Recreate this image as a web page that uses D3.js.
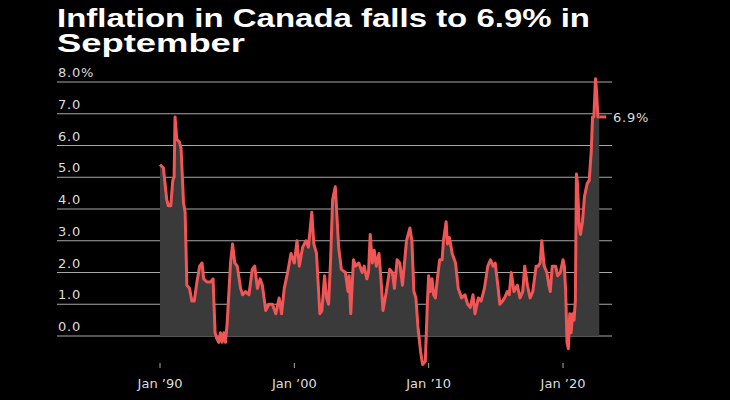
<!DOCTYPE html>
<html>
<head>
<meta charset="utf-8">
<script src="https://cdn.jsdelivr.net/npm/d3@7"></script>
<style>
html, body { margin: 0; padding: 0; background: #000; }
svg { display: block; font-family: "DejaVu Sans", sans-serif; }
</style>
</head>
<body>
<svg id="chart" width="730" height="400"></svg>
<script>
// [decimal year, CPI y/y %], one array per decade
var points1990s = [[1990.0,5.4],[1990.25,5.3],[1990.5,4.3],[1990.62,4.1],[1990.8,4.1],[1990.95,4.9],[1991.05,5.0],[1991.12,6.9],[1991.25,6.2],[1991.45,6.1],[1991.57,5.9],[1991.75,4.2],[1991.87,3.9],[1992.0,1.6],[1992.2,1.5],[1992.37,1.1],[1992.55,1.1],[1992.75,1.7],[1992.95,2.2],[1993.13,2.3],[1993.25,1.8],[1993.5,1.7],[1993.75,1.7],[1993.95,1.8],[1994.1,0.1],[1994.25,-0.1],[1994.37,-0.2],[1994.5,0.1],[1994.62,-0.2],[1994.75,0.1],[1994.87,-0.2],[1995.0,0.4],[1995.25,2.3],[1995.4,2.9],[1995.57,2.3],[1995.75,2.2],[1996.0,1.5],[1996.15,1.3],[1996.37,1.4],[1996.62,1.3],[1996.87,2.1],[1997.05,2.2],[1997.25,1.5],[1997.45,1.8],[1997.62,1.6],[1997.87,0.8],[1998.1,1.0],[1998.37,1.0],[1998.62,0.7],[1998.87,1.2],[1999.05,0.7],[1999.25,1.5],[1999.5,2.0],[1999.75,2.6]];
var points2000s = [[2000.0,2.3],[2000.2,3.0],[2000.37,2.2],[2000.62,2.8],[2000.87,3.0],[2001.05,2.8],[2001.3,3.9],[2001.45,2.9],[2001.65,2.6],[2001.9,0.7],[2002.05,0.8],[2002.25,1.9],[2002.4,1.2],[2002.55,1.0],[2002.7,2.4],[2002.85,4.3],[2003.05,4.7],[2003.3,2.8],[2003.5,2.1],[2003.8,2.0],[2004.0,1.4],[2004.08,1.9],[2004.2,0.7],[2004.4,2.4],[2004.55,2.2],[2004.8,2.3],[2005.05,2.0],[2005.2,2.2],[2005.4,1.8],[2005.52,2.0],[2005.65,3.2],[2005.8,2.3],[2005.95,2.7],[2006.1,2.2],[2006.3,2.6],[2006.45,1.8],[2006.6,0.8],[2006.85,1.4],[2007.1,2.1],[2007.3,2.0],[2007.45,1.5],[2007.65,2.4],[2007.85,2.3],[2008.05,1.6],[2008.35,3.0],[2008.6,3.4],[2008.75,3.0],[2008.9,1.4],[2009.05,1.2],[2009.2,0.3],[2009.4,-0.5],[2009.55,-0.9],[2009.75,-0.8],[2009.9,1.0]];
var points2010s = [[2010.0,1.9],[2010.12,1.4],[2010.25,1.8],[2010.37,1.3],[2010.5,1.2],[2010.62,1.7],[2010.82,2.4],[2011.0,2.4],[2011.1,3.0],[2011.3,3.6],[2011.4,2.9],[2011.55,3.1],[2011.75,2.6],[2012.0,2.3],[2012.2,1.5],[2012.45,1.2],[2012.7,1.3],[2012.9,1.0],[2013.1,0.9],[2013.3,1.3],[2013.45,0.7],[2013.7,1.2],[2013.9,1.1],[2014.15,1.5],[2014.4,2.2],[2014.6,2.4],[2014.8,2.2],[2014.95,2.3],[2015.15,1.6],[2015.3,1.0],[2015.5,1.1],[2015.65,1.2],[2015.85,1.4],[2016.0,1.3],[2016.15,2.0],[2016.35,1.4],[2016.6,1.6],[2016.8,1.2],[2017.0,1.4],[2017.15,2.2],[2017.35,1.6],[2017.55,1.2],[2017.75,1.4],[2018.0,2.2],[2018.15,2.2],[2018.3,2.3],[2018.42,3.0],[2018.6,2.2],[2018.8,2.0],[2018.95,1.6],[2019.05,1.4],[2019.2,2.2],[2019.45,2.2],[2019.6,1.9],[2019.8,2.0]];
var points2020s = [[2020.0,2.4],[2020.1,2.2],[2020.2,1.4],[2020.3,-0.2],[2020.4,-0.4],[2020.5,0.7],[2020.6,0.1],[2020.72,0.7],[2020.82,0.5],[2020.92,1.1],[2021.0,5.1],[2021.08,4.8],[2021.2,3.5],[2021.3,3.2],[2021.45,3.6],[2021.6,4.4],[2021.8,4.8],[2021.95,4.9],[2022.1,5.8],[2022.2,6.9],[2022.3,6.9],[2022.42,8.1],[2022.5,7.7],[2022.6,6.9],[2022.7,6.9]];
var yTicks = [0, 1, 2, 3, 4, 5, 6, 7, 8];
var xTicks = [1990, 2000, 2010, 2020];
var xTickLabels = ["Jan ’90", "Jan ’00", "Jan ’10", "Jan ’20"];
var titleLines = ["Inflation in Canada falls to 6.9% in", "September"];

var svg = d3.select("#chart");
var data = points1990s.concat(points2000s, points2010s, points2020s)
	.map(function(p) { return { x: p[0], v: p[1] }; });

var x = d3.scaleLinear().domain([1990, 2020]).range([160, 563]);
var y = d3.scaleLinear().domain([0, 8]).range([336, 82]);

var titleWidths = [533, 188];
svg.append("g").selectAll("text").data(titleLines).enter().append("text")
	.attr("x", 57).attr("y", function(d, i) { return 27 + i * 25; })
	.attr("fill", "#fff").attr("font-size", 25).attr("font-weight", "bold")
	.attr("font-family", "'Liberation Sans', Arial, sans-serif")
	.attr("textLength", function(d, i) { return titleWidths[i]; })
	.attr("lengthAdjust", "spacingAndGlyphs")
	.text(function(d) { return d; });

// gridlines + y labels
svg.append("g").selectAll("line").data(yTicks).enter().append("line")
	.attr("x1", 57).attr("x2", 612)
	.attr("y1", function(d) { return y(d); }).attr("y2", function(d) { return y(d); })
	.attr("stroke", "#a8a8a8").attr("stroke-width", 1.2);
svg.append("g").selectAll("text").data(yTicks).enter().append("text")
	.attr("x", 58).attr("y", function(d) { return y(d) - 5; })
	.attr("fill", "#ddd").attr("font-size", 13).attr("letter-spacing", 0.8)
	.text(function(d) { return d3.format(".1f")(d) + (d === 8 ? "%" : ""); });

// area + line
svg.append("path").datum(data)
	.attr("fill", "#3a3a3a")
	.attr("d", d3.area().x(function(d) { return x(d.x); }).y0(y(0)).y1(function(d) { return y(Math.max(0, d.v)); }));
svg.append("path").datum(data)
	.attr("fill", "none").attr("stroke", "#f05656").attr("stroke-width", 3).attr("stroke-linejoin", "round")
	.attr("d", d3.line().x(function(d) { return x(d.x); }).y(function(d) { return y(d.v); }));
var last = data[data.length - 1];
svg.append("line").attr("x1", x(last.x)).attr("x2", x(last.x) + 7)
	.attr("y1", y(last.v)).attr("y2", y(last.v)).attr("stroke", "#f05656").attr("stroke-width", 3);
svg.append("text").attr("x", 613).attr("y", y(last.v) + 5)
	.attr("fill", "#ddd").attr("font-size", 13).attr("letter-spacing", 0.8)
	.text(d3.format(".1f")(last.v) + "%");

// x ticks
var xt = svg.append("g").selectAll("g").data(xTicks).enter().append("g")
	.attr("transform", function(d) { return "translate(" + x(d) + ",0)"; });
xt.append("line").attr("y1", 363).attr("y2", 368).attr("stroke", "#aaa");
xt.append("text").attr("y", 388).attr("text-anchor", "middle")
	.attr("fill", "#ddd").attr("font-size", 13)
	.text(function(d, i) { return xTickLabels[i]; });
</script>
</body>
</html>
